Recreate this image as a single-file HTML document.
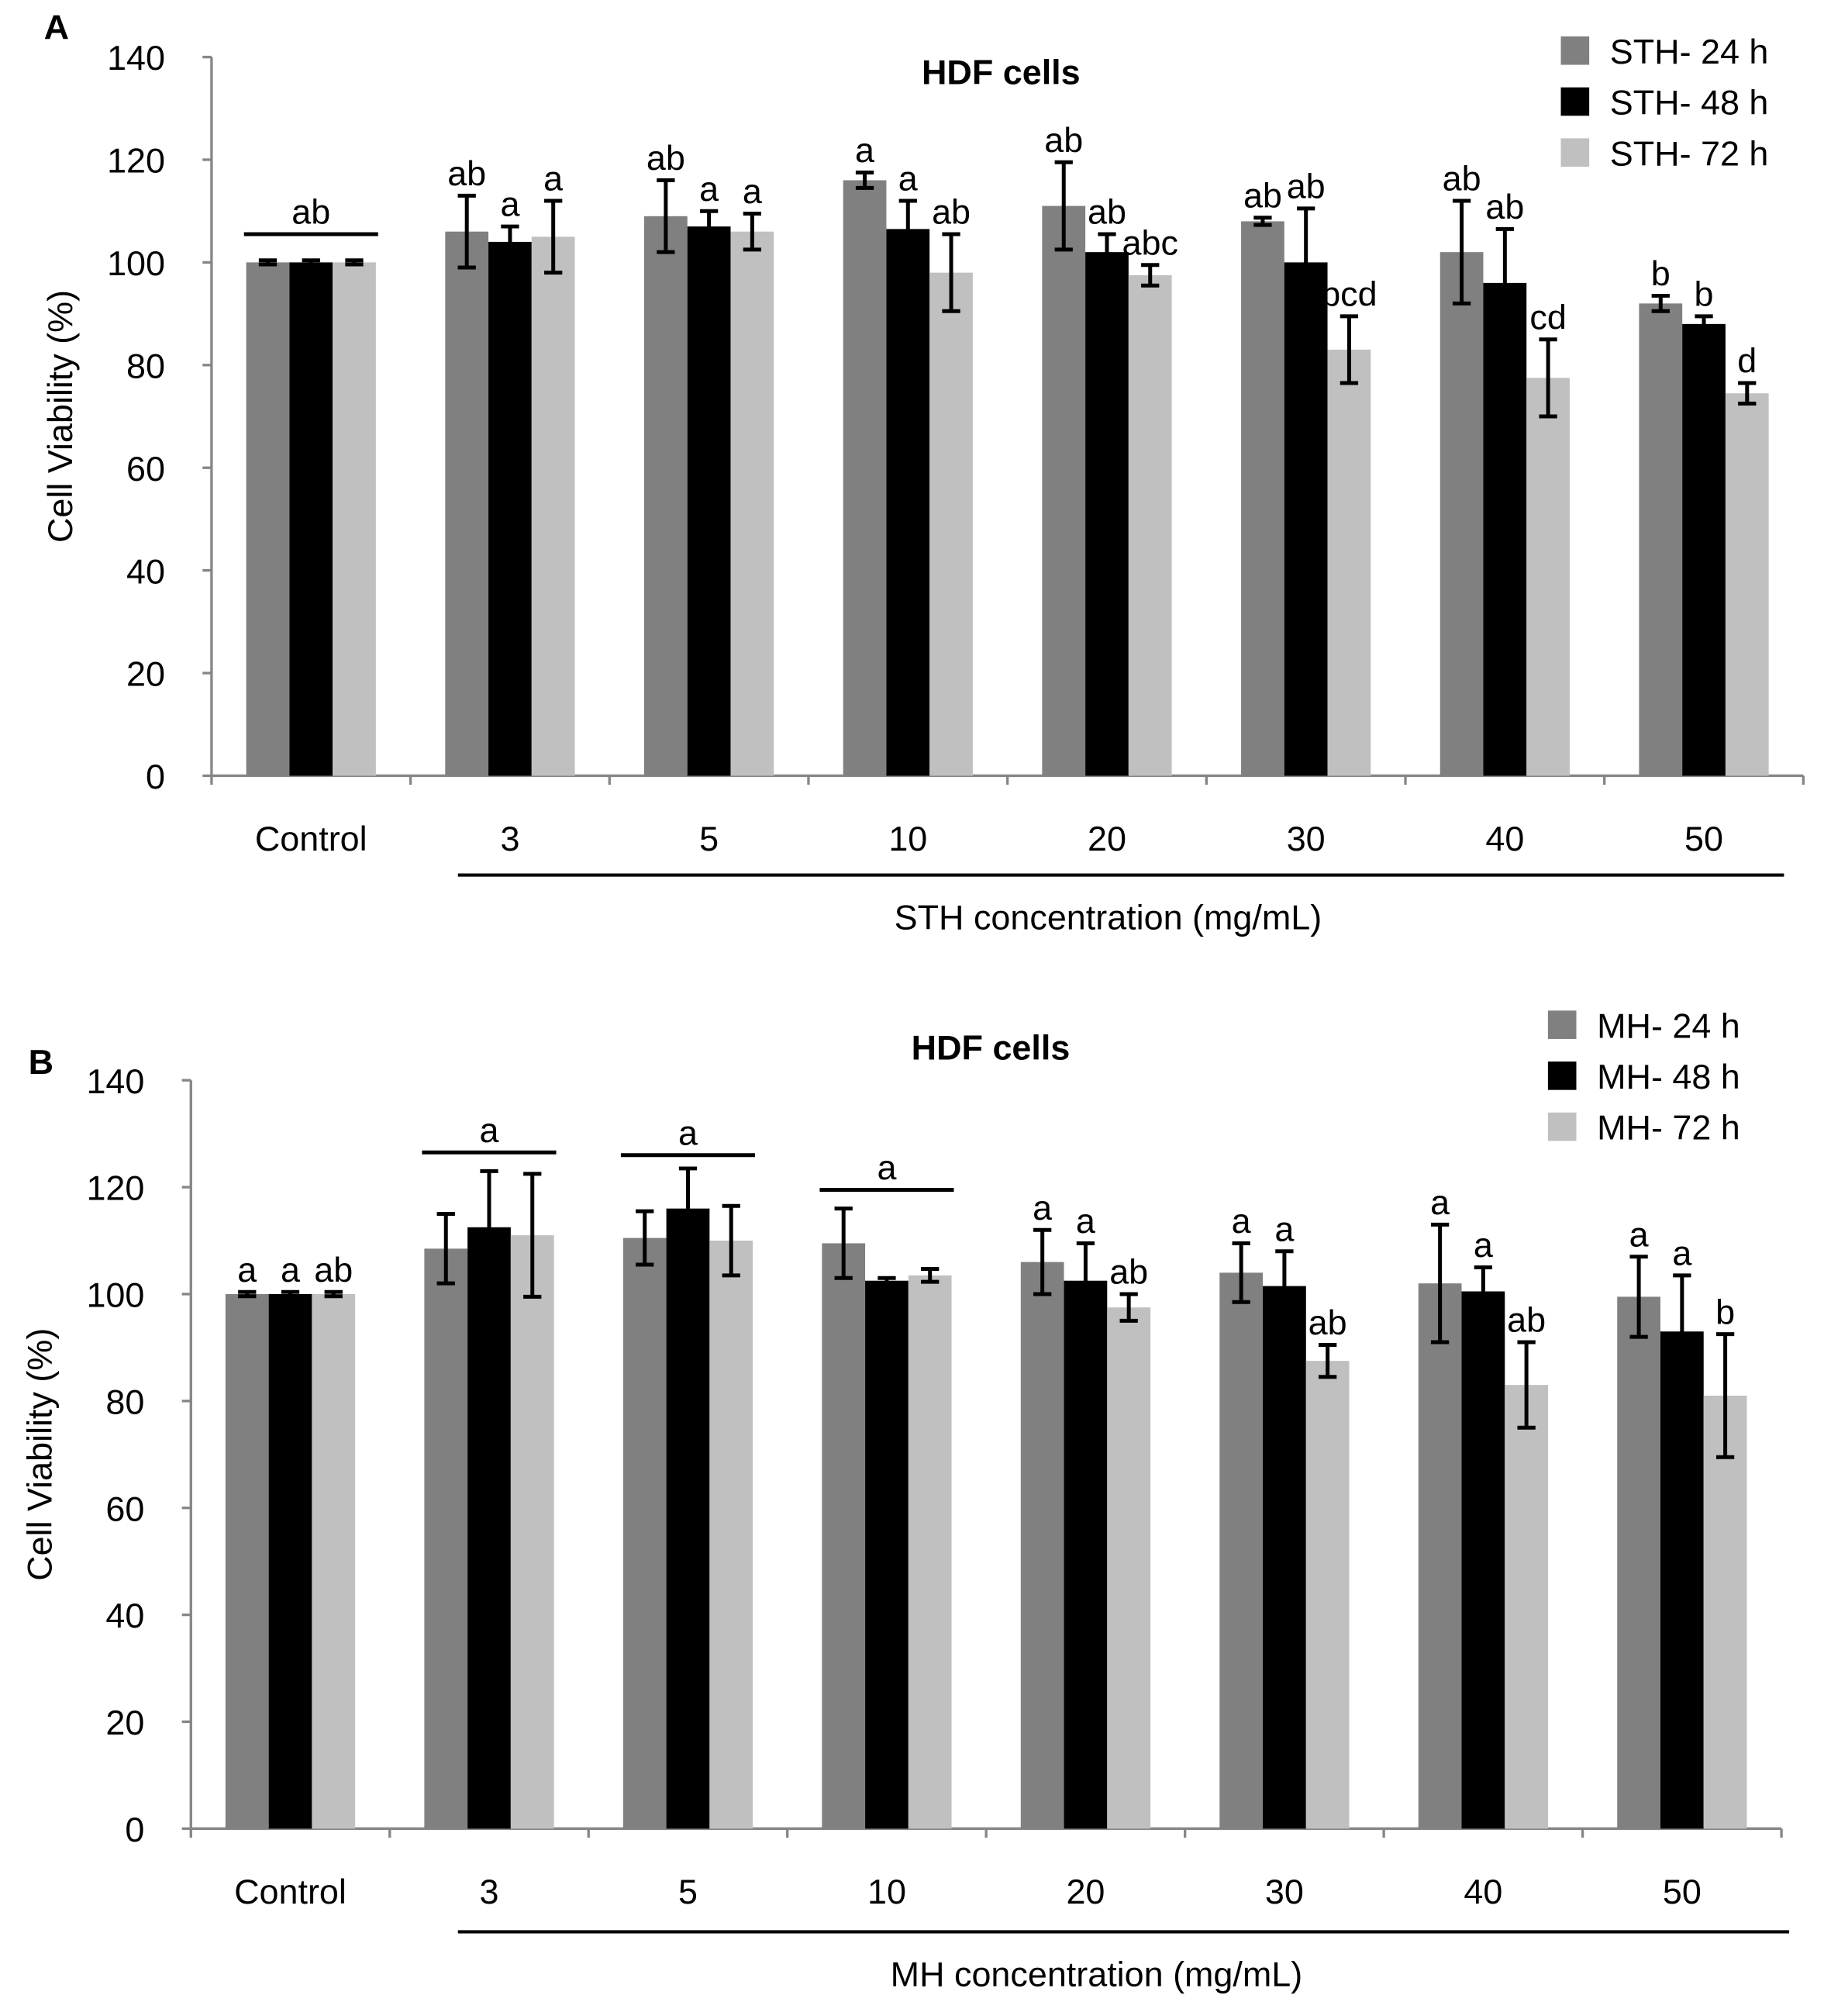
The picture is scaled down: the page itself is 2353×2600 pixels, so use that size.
<!DOCTYPE html>
<html><head><meta charset="utf-8"><style>
html,body{margin:0;padding:0;background:#fff}
svg{display:block}
text{font-family:"Liberation Sans",Arial,sans-serif;fill:#000}
</style></head><body>
<svg id="chart" width="2353" height="2600" viewBox="0 0 1414 1562" xmlns="http://www.w3.org/2000/svg"></svg>
<script>
const categories = ["Control","3","5","10","20","30","40","50"];
const yTicks = [0,20,40,60,80,100,120,140];
const seriesColors = ["#808080","#000000","#c0c0c0"];
const A_names = ["STH- 24 h","STH- 48 h","STH- 72 h"];
const A_s24 = [100,106,109,116,111,108,102,92];
const A_s48 = [100,104,107,106.5,102,100,96,88];
const A_s72 = [100,105,106,98,97.5,83,77.5,74.5];
const A_e24 = [0.4,7,7,1.5,8.5,0.7,10,1.5];
const A_e48 = [0.4,3,3,5.5,3.5,10.5,10.5,1.5];
const A_e72 = [0.4,7,3.5,7.5,2,6.5,7.5,2];
const A_l24 = ["","ab","ab","a","ab","ab","ab","b"];
const A_l48 = ["","a","a","a","ab","ab","ab","b"];
const A_l72 = ["","a","a","ab","abc","bcd","cd","d"];
const B_names = ["MH- 24 h","MH- 48 h","MH- 72 h"];
const B_s24 = [100,108.5,110.5,109.5,106,104,102,99.5];
const B_s48 = [100,112.5,116,102.5,102.5,101.5,100.5,93];
const B_s72 = [100,111,110,103.5,97.5,87.5,83,81];
const B_e24 = [0.4,6.5,5,6.5,6,5.5,11,7.5];
const B_e48 = [0.4,10.5,7.5,0.5,7,6.5,4.5,10.5];
const B_e72 = [0.4,11.5,6.5,1.2,2.5,3,8,11.5];
const B_l24 = ["a","","","","a","a","a","a"];
const B_l48 = ["a","","","","a","a","a","a"];
const B_l72 = ["ab","","","","ab","ab","ab","b"];

const NS="http://www.w3.org/2000/svg";
const svg=document.getElementById('chart');
const FS=27;
function mk(tag,attrs,parent){const e=document.createElementNS(NS,tag);for(const k in attrs)e.setAttribute(k,attrs[k]);(parent||svg).appendChild(e);return e;}
function txt(s,attrs,parent){const e=mk('text',attrs,parent);e.textContent=s;return e;}

function panel(cfg){
  const g=mk('g',{});
  
  
  const x0=cfg.x0, x1=cfg.x1, yb=cfg.y0, yt=cfg.y140;
  const y=v=>yb-(v/140)*(yb-yt);
  const gw=(x1-x0)/categories.length;
  const bw=33.5;
  const ax=mk('line',{x1:x0,y1:yt,x2:x0,y2:yb,stroke:'#868686','stroke-width':2},g);
  
  yTicks.forEach(t=>{
    mk('line',{x1:x0-7,y1:y(t),x2:x0,y2:y(t),stroke:'#868686','stroke-width':2},g);
    const tl=txt(String(t),{x:x0-36,y:y(t)+10,'text-anchor':'end','font-size':FS},g);
    
  });
  const xa=mk('line',{x1:x0,y1:yb,x2:x1,y2:yb,stroke:'#868686','stroke-width':2},g);
  
  for(let i=0;i<=categories.length;i++) mk('line',{x1:x0+i*gw,y1:yb,x2:x0+i*gw,y2:yb+7,stroke:'#868686','stroke-width':2},g);
  const S=[cfg.s24,cfg.s48,cfg.s72],E=[cfg.e24,cfg.e48,cfg.e72],L=[cfg.l24,cfg.l48,cfg.l72];
  categories.forEach((c,i)=>{
    const cx=x0+(i+0.5)*gw;
    for(let s=0;s<3;s++){
      const bx=cx-1.5*bw+s*bw, v=S[s][i], e=E[s][i];
      const r=mk('rect',{x:bx,y:y(v),width:bw,height:yb-y(v),fill:seriesColors[s]},g);
      
      const mx=bx+bw/2;
      mk('path',{d:`M${mx},${y(v+e)}V${y(v-e)}M${mx-7},${y(v+e)}H${mx+7}M${mx-7},${y(v-e)}H${mx+7}`,stroke:'#000','stroke-width':3,fill:'none'},g);
      if(L[s][i]){
        const lt=txt(L[s][i],{x:mx,y:y(v+e)-8,'text-anchor':'middle','font-size':FS},g);
        
      }
    }
    const cl=txt(c,{x:cx,y:yb+58,'text-anchor':'middle','font-size':FS},g);
    
  });
  cfg.groupLines.forEach(gl=>{
    const cx=x0+(gl.i+0.5)*gw;
    mk('line',{x1:cx-52,y1:y(gl.v),x2:cx+52,y2:y(gl.v),stroke:'#000','stroke-width':3},g);
    const t=txt(gl.t,{x:cx,y:y(gl.v)-8,'text-anchor':'middle','font-size':FS},g);
    
  });
  mk('line',{x1:355,y1:cfg.bracketY,x2:cfg.bracketEnd,y2:cfg.bracketY,stroke:'#000','stroke-width':2.5},g);
  const xt=txt(cfg.xTitle,{x:cfg.xTitleX,y:cfg.bracketY+42,'text-anchor':'middle','font-size':FS},g);
  
  const yl=txt('Cell  Viability (%)',{x:0,y:0,'text-anchor':'middle','font-size':FS,transform:`translate(${x0-108},${y(70)}) rotate(-90)`},g);
  
  const ti=txt('HDF cells',{x:cfg.titleX,y:cfg.titleY,'text-anchor':'middle','font-size':FS,'font-weight':'bold'},g);
  
  const pl=txt(cfg.letter,{x:cfg.letterX,y:cfg.letterY,'font-size':FS,'font-weight':'bold'},g);
  
  cfg.names.forEach((n,k)=>{
    const ly=cfg.legY+k*39.5;
    const sw=mk('rect',{x:cfg.legX,y:ly-11,width:22,height:22,fill:seriesColors[k]},g);
    
    const lt=txt(n,{x:cfg.legX+38,y:ly+10,'font-size':FS},g);
    
  });
}
panel({id:'panel-a',x0:164,x1:1398,y0:601,y140:44,s24:A_s24,s48:A_s48,s72:A_s72,e24:A_e24,e48:A_e48,e72:A_e72,l24:A_l24,l48:A_l48,l72:A_l72,
  groupLines:[{i:0,v:105.5,t:'ab'}],bracketY:678,bracketEnd:1383,xTitle:'STH concentration (mg/mL)',xTitleX:859,titleX:776,titleY:65,letter:'A',letterX:34,letterY:30,names:A_names,legX:1210,legY:39});
panel({id:'panel-b',x0:148,x1:1381,y0:1417,y140:837,s24:B_s24,s48:B_s48,s72:B_s72,e24:B_e24,e48:B_e48,e72:B_e72,l24:B_l24,l48:B_l48,l72:B_l72,
  groupLines:[{i:1,v:126.5,t:'a'},{i:2,v:126,t:'a'},{i:3,v:119.5,t:'a'}],bracketY:1497,bracketEnd:1387,xTitle:'MH concentration (mg/mL)',xTitleX:850,titleX:768,titleY:821,letter:'B',letterX:22,letterY:832,names:B_names,legX:1200,legY:794});
</script>
</body></html>
